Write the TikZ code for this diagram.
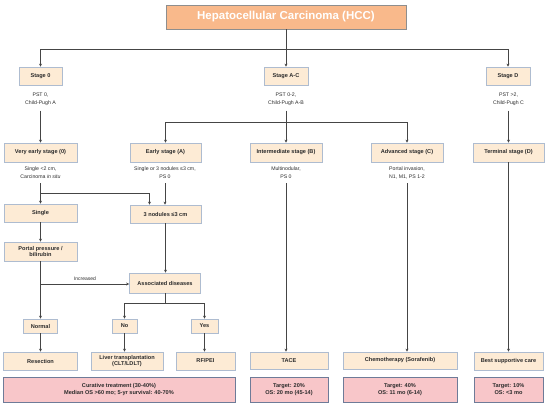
\documentclass[tikz,border=0pt]{standalone}
\usepackage{fontspec}
\setmainfont{Liberation Sans}
\usetikzlibrary{arrows.meta}
\definecolor{peach}{HTML}{FDEBD5}
\definecolor{bordc}{HTML}{AEBCD0}
\definecolor{pinkf}{HTML}{F8C6C9}
\definecolor{pinkb}{HTML}{6E7B98}
\definecolor{titlef}{HTML}{F9B98B}
\definecolor{titleb}{HTML}{8E8E8E}
\definecolor{txt}{HTML}{2B2B2B}
\definecolor{linec}{HTML}{454545}
\tikzset{
  box/.style={draw=bordc, fill=peach, line width=0.7pt, inner sep=0pt, align=center, text=txt,
    font=\fontsize{5.6}{6.6}\selectfont\bfseries},
  resbox/.style={draw=pinkb, fill=pinkf, line width=0.8pt, inner sep=0pt, align=center, text=txt,
    font=\fontsize{5.6}{7}\selectfont\bfseries},
  desc/.style={inner sep=0pt, align=center, text=txt, font=\fontsize{5.2}{8}\selectfont},
  conn/.style={draw=linec, line width=1pt},
  arr/.style={conn, -{Stealth[length=3pt,width=3pt]}},
}
\begin{document}
\begin{tikzpicture}[x=1pt,y=-1pt]
\useasboundingbox (0,0) rectangle (550,405);
% title
\node[draw=titleb, fill=titlef, line width=0.8pt, minimum width=240pt, minimum height=24pt, inner sep=0pt,
  text=white, font=\fontsize{11.5}{13}\selectfont\bfseries] (title) at (286,17) {Hepatocellular Carcinoma (HCC)};
% stages
\node[box, minimum width=43pt, minimum height=18pt] (s0) at (40.5,76) {Stage 0};
\node[box, minimum width=44pt, minimum height=18pt] (sAC) at (286,76) {Stage A-C};
\node[box, minimum width=44pt, minimum height=18pt] (sD) at (508,76) {Stage D};
\node[desc] (t0) at (40.5,99) {PST 0,\\Child-Pugh A};
\node[desc] (tAC) at (286,99) {PST 0-2,\\Child-Pugh A-B};
\node[desc] (tD) at (508.5,99) {PST {>}2,\\Child-Pugh C};
% sub stages
\node[box, minimum width=73pt, minimum height=19pt] (ve) at (40.5,152.5) {Very early stage (0)};
\node[box, minimum width=71pt, minimum height=19pt] (ea) at (165.5,152.5) {Early stage (A)};
\node[box, minimum width=72pt, minimum height=19pt] (ib) at (286,152.5) {Intermediate stage (B)};
\node[box, minimum width=72pt, minimum height=19pt] (ac) at (407,152.5) {Advanced stage (C)};
\node[box, minimum width=71pt, minimum height=19pt] (td) at (508.5,152.5) {Terminal stage (D)};
\node[desc] (tve) at (40.5,173) {Single {<}2 cm,\\Carcinoma \textit{in situ}};
\node[desc] (tea) at (165,173) {Single or 3 nodules ≤3 cm,\\PS 0};
\node[desc] (tib) at (286,173) {Multinodular,\\PS 0};
\node[desc] (tac) at (407,173) {Portal invasion,\\N1, M1, PS 1-2};
% left branch
\node[box, minimum width=73pt, minimum height=18pt] (single) at (40.5,213) {Single};
\node[box, minimum width=71pt, minimum height=18pt] (nod) at (165.5,214) {3 nodules ≤3 cm};
\node[box, minimum width=73pt, minimum height=19pt] (portal) at (40.5,251.5) {Portal pressure /\\bilirubin};
\node[box, minimum width=71pt, minimum height=20pt] (assoc) at (165,283) {Associated diseases};
\node[box, minimum width=34pt, minimum height=14pt] (normal) at (40.5,326) {Normal};
\node[box, minimum width=25pt, minimum height=14pt] (no) at (124.5,326) {No};
\node[box, minimum width=27pt, minimum height=14pt] (yes) at (204.5,326) {Yes};
% treatments
\node[box, minimum width=74pt, minimum height=18pt] (resec) at (40.5,361) {Resection};
\node[box, minimum width=72pt, minimum height=18pt] (liver) at (127,361) {Liver transplantation\\(CLT/LDLT)};
\node[box, minimum width=59pt, minimum height=18pt] (rf) at (205.5,361) {RF/PEI};
\node[box, minimum width=78pt, minimum height=17pt] (tace) at (289,360.5) {TACE};
\node[box, minimum width=114pt, minimum height=17pt] (chemo) at (400,360.5) {Chemotherapy (Sorafenib)};
\node[box, minimum width=69pt, minimum height=18pt] (bsc) at (508.5,361) {Best supportive care};
% outcomes
\node[resbox, minimum width=232pt, minimum height=25pt] (cur) at (119,389.5) {Curative treatment (30-40\%)\\Median OS {>}60 mo; 5-yr survival: 40-70\%};
\node[resbox, minimum width=78pt, minimum height=25pt] (otace) at (289,389.5) {Target: 20\%\\OS: 20 mo (45-14)};
\node[resbox, minimum width=114pt, minimum height=25pt] (ochemo) at (400,389.5) {Target: 40\%\\OS: 11 mo (6-14)};
\node[resbox, minimum width=69pt, minimum height=25pt] (obsc) at (508.5,389.5) {Target: 10\%\\OS: {<}3 mo};
% connectors
\coordinate (j1) at (286,49);
\draw[conn] (title.south) -- (j1);
\draw[arr] (j1) -| (s0.north);
\draw[arr] (j1) -| (sD.north);
\draw[arr] (j1) -- (sAC.north);
\draw[arr] ([yshift=-5pt]t0.south) -- (ve.north);
\draw[arr] ([yshift=-5pt]tD.south) -- (td.north);
\coordinate (j2) at (286,122);
\draw[conn] ([yshift=-5pt]tAC.south) -- (j2);
\draw[arr] (j2) -| (ea.north);
\draw[arr] (j2) -| (ac.north);
\draw[arr] (j2) -- (ib.north);
\coordinate (j3) at (40.5,193);
\draw[conn] ([yshift=-4pt]tve.south) -- (j3);
\draw[arr] (j3) -- (single.north);
\draw[arr] (j3) -| ([xshift=-16pt]nod.north);
\draw[arr] ([yshift=-4pt]tea.south) -- (tea.south |- nod.north);
\draw[arr] (single) -- (portal);
\coordinate (j4) at (40.5,284);
\draw[arr] (portal.south) -- (normal.north);
\draw[arr] (j4) -- (assoc.west |- j4);
\node[desc, font=\fontsize{5}{6}\selectfont] (inc) at (85,278.5) {Increased};
\draw[arr] (nod) -- (nod.south |- assoc.north);
\coordinate (j5) at (165,303);
\draw[conn] (assoc.south) -- (j5);
\draw[arr] (j5) -| (no.north);
\draw[arr] (j5) -| (yes.north);
\draw[arr] (normal) -- (resec);
\draw[arr] (no.south) -- (no.south |- liver.north);
\draw[arr] (yes.south) -- (yes.south |- rf.north);
\draw[arr] ([yshift=-4pt]tib.south) -- (tib.south |- tace.north);
\draw[arr] ([yshift=-4pt]tac.south) -- (tac.south |- chemo.north);
\draw[arr] (td.south) -- (td.south |- bsc.north);
\end{tikzpicture}
\end{document}
